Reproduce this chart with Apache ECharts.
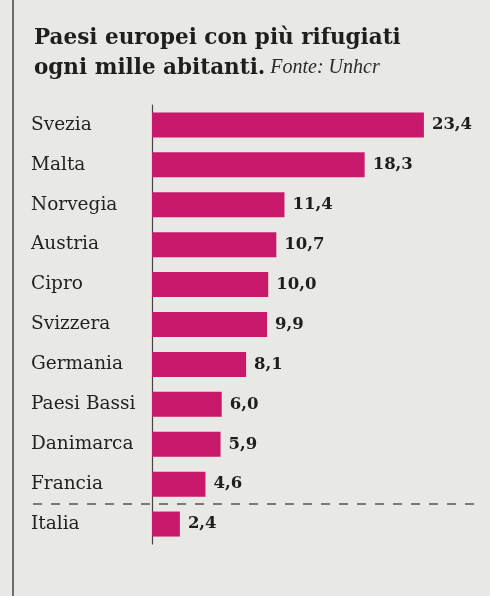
<!DOCTYPE html>
<html>
<head>
<meta charset="utf-8">
<script src="https://cdn.jsdelivr.net/npm/echarts@6/dist/echarts.min.js"></script>
<style>
  html, body { margin: 0; padding: 0; background: #e8e8e4; }
  #chart { width: 490px; height: 596px; }
</style>
</head>
<body>
<div id="chart"></div>
<script>
// dati: rifugiati ogni mille abitanti (Fonte: Unhcr)
var paesi = ['Svezia', 'Malta', 'Norvegia', 'Austria', 'Cipro', 'Svizzera',
             'Germania', 'Paesi Bassi', 'Danimarca', 'Francia', 'Italia'];
var rifugiati = [23.4, 18.3, 11.4, 10.7, 10.0, 9.9, 8.1, 6.0, 5.9, 4.6, 2.4];
var titolo1 = 'Paesi europei con più rifugiati';
var titolo2 = 'ogni mille abitanti.';
var fonte = 'Fonte: Unhcr';

var myChart = echarts.init(document.getElementById('chart'));

var option = {
  backgroundColor: '#e8e8e4',
  animation: false,
  title: {
    left: 34,
    top: 23,
    padding: 0,
    text: '{t|' + titolo1 + '}\n{t|' + titolo2 + '} {f|' + fonte + '}',
    textStyle: {
      rich: {
        t: { fontFamily: 'DejaVu Serif', fontWeight: 'bold', fontSize: 21.5, color: '#1e1e1e', lineHeight: 30 },
        f: { fontFamily: 'Liberation Serif', fontStyle: 'italic', fontWeight: 'normal', fontSize: 20, color: '#2a2a2a', lineHeight: 30 }
      }
    }
  },
  grid: {
    left: 152,
    right: 47.5,
    top: 105,
    bottom: 52
  },
  xAxis: {
    type: 'value',
    min: 0,
    max: 25,
    show: false
  },
  yAxis: {
    type: 'category',
    data: paesi,
    inverse: true,
    axisLine: { show: true, lineStyle: { color: '#444', width: 1.2 } },
    axisTick: { show: false },
    axisLabel: {
      align: 'left',
      margin: 121,
      fontFamily: 'DejaVu Serif',
      fontSize: 18.5,
      color: '#222'
    }
  },
  series: [{
    type: 'bar',
    data: rifugiati,
    barWidth: 25,
    itemStyle: { color: '#c8196d' },
    label: {
      show: true,
      position: 'right',
      distance: 8,
      fontFamily: 'DejaVu Serif',
      fontWeight: 'bold',
      fontSize: 16.5,
      color: '#1e1e1e',
      formatter: function (p) {
        return p.value.toFixed(1).replace('.', ',');
      }
    }
  }]
};
myChart.setOption(option);

// linea tratteggiata tra Francia e Italia, bordo sinistro della pagina
var yF = myChart.convertToPixel({ gridIndex: 0 }, [0, 'Francia'])[1];
var yI = myChart.convertToPixel({ gridIndex: 0 }, [0, 'Italia'])[1];
var ySep = (yF + yI) / 2;
myChart.setOption({
  graphic: [
    {
      type: 'line',
      shape: { x1: 33, y1: ySep, x2: 482, y2: ySep },
      style: { stroke: '#555', lineWidth: 1.5, lineDash: [9, 9] }
    },
    {
      type: 'line',
      shape: { x1: 13, y1: 0, x2: 13, y2: 596 },
      style: { stroke: '#444', lineWidth: 1.5 }
    }
  ]
});
</script>
</body>
</html>
